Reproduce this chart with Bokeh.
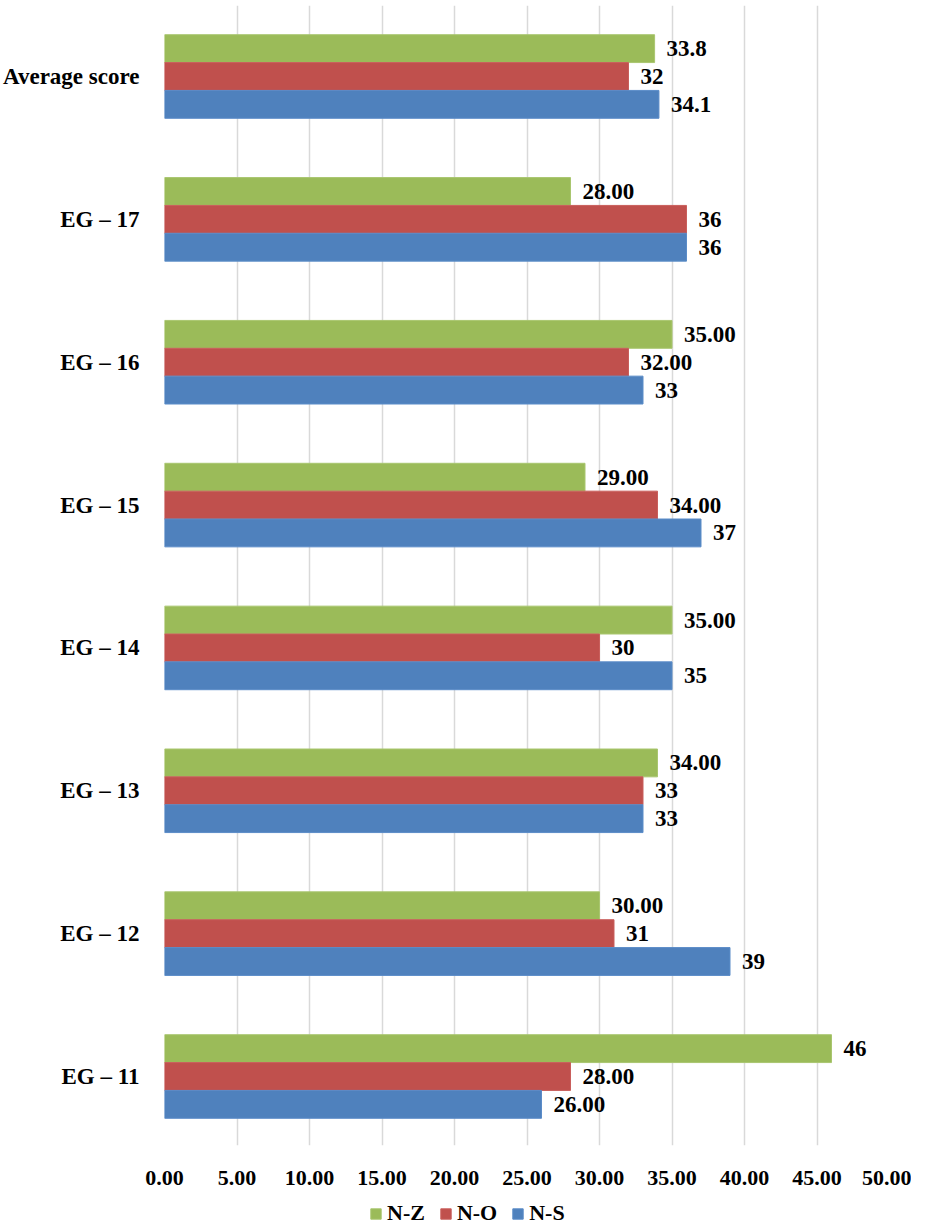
from bokeh.plotting import figure
from bokeh.layouts import column
from bokeh.models import Range1d, FixedTicker, NumeralTickFormatter, Legend, LegendItem, ColumnDataSource
from bokeh.core.properties import value
from bokeh.embed import file_html
from bokeh.resources import INLINE

# data, bottom to top as drawn
categories = ["EG \u2013 11", "EG \u2013 12", "EG \u2013 13", "EG \u2013 14",
              "EG \u2013 15", "EG \u2013 16", "EG \u2013 17", "Average score"]
nz = [46, 30, 34, 35, 29, 35, 28, 33.8]
no = [28, 31, 33, 30, 34, 32, 36, 32]
ns = [26, 39, 33, 35, 37, 33, 36, 34.1]
nz_labels = ["46", "30.00", "34.00", "35.00", "29.00", "35.00", "28.00", "33.8"]
no_labels = ["28.00", "31", "33", "30", "34.00", "32.00", "36", "32"]
ns_labels = ["26.00", "39", "33", "35", "37", "33", "36", "34.1"]
x_ticks = [0, 5, 10, 15, 20, 25, 30, 35, 40, 45, 50]

FONT = "Liberation Serif"
bar_h = 0.195

p = figure(width=911, height=1191, output_backend="svg", toolbar_location=None,
           x_range=Range1d(0, 50), y_range=Range1d(-0.483, 7.497),
           min_border_left=157, min_border_right=22, min_border_top=5,
           min_border_bottom=46)
p.outline_line_color = None

# legend strip under the chart (frames line up with the chart in a column)
lg = figure(width=911, height=35, output_backend="svg", toolbar_location=None,
            x_range=Range1d(0, 50), y_range=Range1d(100, 101),
            x_axis_location=None, y_axis_location=None,
            min_border=0)
lg.outline_line_color = None
lg.grid.grid_line_color = None

series = [
    ("N-Z", nz, nz_labels, bar_h, "#9BBB59", "#A9C66F"),
    ("N-O", no, no_labels, 0.0, "#C0504D", "#C95F5C"),
    ("N-S", ns, ns_labels, -bar_h, "#4F81BD", "#5B8CC8"),
]

items = []
for name, vals, labels, off, fill, edge in series:
    src = ColumnDataSource(dict(y=[i + off for i in range(len(categories))],
                                x=vals, lab=labels))
    p.hbar(y="y", right="x", left=0, height=bar_h, source=src,
           fill_color=fill, line_color=edge, line_width=1)
    p.text(x="x", y="y", text="lab", source=src, x_offset=12,
           text_align="left", text_baseline="middle",
           text_font=value(FONT), text_font_style="bold",
           text_font_size="23px", text_color="black")
    # same bars in the legend strip, out of its view, just to feed the legend
    r = lg.hbar(y="y", right="x", left=0, height=bar_h, source=src,
                fill_color=fill, line_color=edge, line_width=1)
    items.append(LegendItem(label=name, renderers=[r]))

# x axis
p.xaxis.ticker = FixedTicker(ticks=x_ticks)
p.xaxis.formatter = NumeralTickFormatter(format="0.00")
p.xaxis.axis_line_color = None
p.xaxis.major_tick_line_color = None
p.xaxis.minor_tick_line_color = None
p.xaxis.major_label_standoff = 19
p.xaxis.major_label_text_font = FONT
p.xaxis.major_label_text_font_style = "bold"
p.xaxis.major_label_text_font_size = "22px"
p.xaxis.major_label_text_color = "black"

# y axis
p.yaxis.ticker = FixedTicker(ticks=list(range(len(categories))))
p.yaxis.major_label_overrides = {i: c for i, c in enumerate(categories)}
p.yaxis.axis_line_color = None
p.yaxis.major_tick_line_color = None
p.yaxis.minor_tick_line_color = None
p.yaxis.major_label_standoff = 19
p.yaxis.major_label_text_font = FONT
p.yaxis.major_label_text_font_style = "bold"
p.yaxis.major_label_text_font_size = "23px"
p.yaxis.major_label_text_color = "black"

p.xgrid.grid_line_color = "#D9D9D9"
p.xgrid.grid_line_width = 1.5
p.ygrid.grid_line_color = None

legend = Legend(items=items, orientation="horizontal", location=(205, 0),
                glyph_width=13, glyph_height=13, label_standoff=5, spacing=14,
                padding=0, margin=0, border_line_color=None,
                background_fill_alpha=0,
                label_text_font=FONT, label_text_font_style="bold",
                label_text_font_size="22px", label_text_color="black")
lg.add_layout(legend, "center")

open("out.html", "w").write(file_html(column(p, lg), INLINE))
